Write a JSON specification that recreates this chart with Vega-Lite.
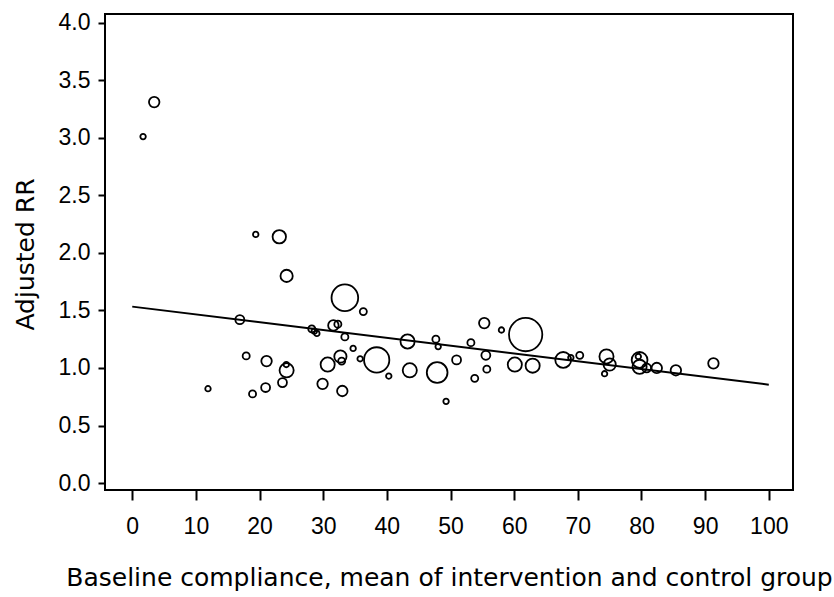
{
  "$schema": "https://vega.github.io/schema/vega-lite/v6.json",
  "width": 688,
  "height": 476,
  "autosize": "none",
  "padding": {"left": 105, "top": 14, "right": 41, "bottom": 107},
  "background": "white",
  "config": {
    "view": {"stroke": "black", "strokeWidth": 2},
    "font": "Liberation Sans",
    "axis": {
      "labelFont": "Liberation Sans",
      "titleFont": "DejaVu Sans",
      "labelColor": "black",
      "titleColor": "black",
      "tickColor": "black",
      "titleFontWeight": "normal",
      "grid": false,
      "domain": false,
      "labelFlush": false,
      "labelOverlap": false
    }
  },
  "layer": [
    {
      "data": {
        "values": [
          {"compliance": 1.7, "rr": 3.01, "w": 3},
          {"compliance": 3.45, "rr": 3.31, "w": 11},
          {"compliance": 19.4, "rr": 2.16, "w": 3},
          {"compliance": 23.1, "rr": 2.14, "w": 18},
          {"compliance": 24.25, "rr": 1.8, "w": 15},
          {"compliance": 33.4, "rr": 1.61, "w": 71},
          {"compliance": 36.3, "rr": 1.49, "w": 5},
          {"compliance": 16.9, "rr": 1.42, "w": 8},
          {"compliance": 28.2, "rr": 1.34, "w": 5},
          {"compliance": 28.6, "rr": 1.32, "w": 3},
          {"compliance": 29.0, "rr": 1.3, "w": 3},
          {"compliance": 31.6, "rr": 1.37, "w": 11},
          {"compliance": 32.3, "rr": 1.38, "w": 5},
          {"compliance": 33.4, "rr": 1.27, "w": 5},
          {"compliance": 34.7, "rr": 1.17, "w": 3},
          {"compliance": 35.8, "rr": 1.08, "w": 3},
          {"compliance": 38.4, "rr": 1.07, "w": 64},
          {"compliance": 17.9, "rr": 1.105, "w": 5},
          {"compliance": 21.1, "rr": 1.06, "w": 11},
          {"compliance": 24.25, "rr": 0.98, "w": 20},
          {"compliance": 24.2, "rr": 1.03, "w": 3},
          {"compliance": 30.7, "rr": 1.03, "w": 20},
          {"compliance": 32.7, "rr": 1.1, "w": 15},
          {"compliance": 32.9, "rr": 1.06, "w": 5},
          {"compliance": 11.9, "rr": 0.82, "w": 3},
          {"compliance": 18.9, "rr": 0.775, "w": 5},
          {"compliance": 20.95, "rr": 0.83, "w": 8},
          {"compliance": 23.6, "rr": 0.873, "w": 8},
          {"compliance": 29.9, "rr": 0.862, "w": 11},
          {"compliance": 33.0, "rr": 0.8, "w": 11},
          {"compliance": 40.3, "rr": 0.93, "w": 3},
          {"compliance": 43.25, "rr": 1.23, "w": 20},
          {"compliance": 43.6, "rr": 0.98, "w": 20},
          {"compliance": 47.9, "rr": 0.96, "w": 43},
          {"compliance": 47.7, "rr": 1.25, "w": 5},
          {"compliance": 48.06, "rr": 1.186, "w": 3},
          {"compliance": 50.95, "rr": 1.07, "w": 8},
          {"compliance": 49.3, "rr": 0.71, "w": 3},
          {"compliance": 53.2, "rr": 1.22, "w": 5},
          {"compliance": 53.8, "rr": 0.91, "w": 5},
          {"compliance": 55.3, "rr": 1.39, "w": 11},
          {"compliance": 55.55, "rr": 1.11, "w": 8},
          {"compliance": 55.7, "rr": 0.99, "w": 5},
          {"compliance": 58.0, "rr": 1.33, "w": 3},
          {"compliance": 61.8, "rr": 1.29, "w": 111},
          {"compliance": 60.1, "rr": 1.03, "w": 20},
          {"compliance": 62.9, "rr": 1.02, "w": 20},
          {"compliance": 67.7, "rr": 1.07, "w": 25},
          {"compliance": 70.3, "rr": 1.11, "w": 5},
          {"compliance": 68.9, "rr": 1.09, "w": 3},
          {"compliance": 74.5, "rr": 1.1, "w": 20},
          {"compliance": 75.0, "rr": 1.03, "w": 15},
          {"compliance": 74.2, "rr": 0.95, "w": 3},
          {"compliance": 79.7, "rr": 1.07, "w": 25},
          {"compliance": 79.7, "rr": 1.01, "w": 20},
          {"compliance": 79.5, "rr": 1.1, "w": 3},
          {"compliance": 80.8, "rr": 1.0, "w": 8},
          {"compliance": 82.4, "rr": 1.0, "w": 11},
          {"compliance": 85.4, "rr": 0.98, "w": 11},
          {"compliance": 91.3, "rr": 1.04, "w": 11}
        ]
      },
      "mark": {"type": "point", "shape": "circle", "filled": false, "stroke": "black", "strokeWidth": 1.8, "opacity": 1},
      "encoding": {
        "x": {
          "field": "compliance",
          "type": "quantitative",
          "scale": {"domain": [-4.28, 103.8], "nice": false, "zero": false},
          "axis": {
            "values": [0, 10, 20, 30, 40, 50, 60, 70, 80, 90, 100],
            "tickSize": 10,
            "tickWidth": 2,
            "labelFontSize": 23,
            "labelPadding": 15,
            "title": "Baseline compliance, mean of intervention and control group",
            "titleFontSize": 25,
            "titleY": 95,
            "titleBaseline": "alphabetic"
          }
        },
        "y": {
          "field": "rr",
          "type": "quantitative",
          "scale": {"domain": [-0.06, 4.075], "nice": false, "zero": false},
          "axis": {
            "values": [0, 0.25, 0.5, 0.75, 1, 1.25, 1.5, 1.75, 2, 2.25, 2.5, 2.75, 3, 3.25, 3.5, 3.75, 4],
            "labelExpr": "datum.value % 0.5 === 0 ? format(datum.value, '.1f') : ''",
            "tickSize": {"condition": {"test": "datum.value % 0.5 === 0", "value": 7}, "value": 5},
            "tickWidth": 2,
            "labelFontSize": 23,
            "labelPadding": 8,
            "labelBaseline": "middle",
            "title": "Adjusted RR",
            "titleFontSize": 25,
            "titleX": -80,
            "titleY": 240,
            "titleAngle": 270,
            "titleAlign": "center",
            "titleBaseline": "middle"
          }
        },
        "size": {
          "field": "w",
          "type": "quantitative",
          "scale": {"type": "linear", "domain": [0, 100], "range": [0, 1000], "zero": true},
          "legend": null
        }
      }
    },
    {
      "data": {"values": [{"compliance": 0, "rr": 1.533}, {"compliance": 100, "rr": 0.855}]},
      "mark": {"type": "line", "color": "black", "strokeWidth": 2},
      "encoding": {
        "x": {"field": "compliance", "type": "quantitative"},
        "y": {"field": "rr", "type": "quantitative"}
      }
    }
  ]
}
